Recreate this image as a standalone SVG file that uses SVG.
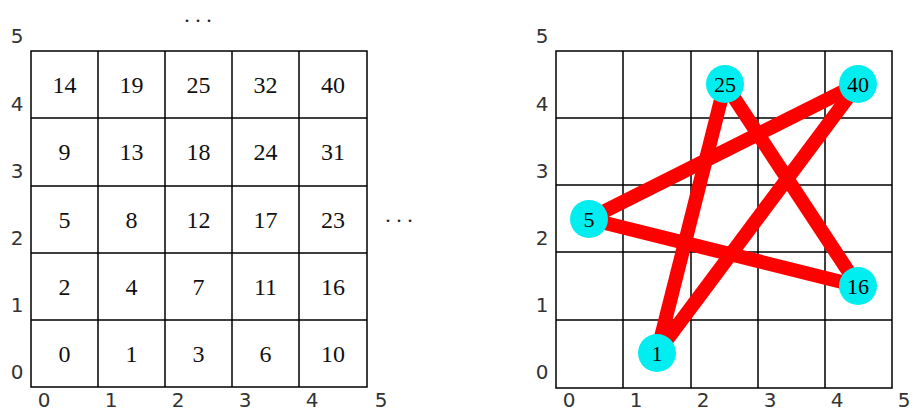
<svg xmlns="http://www.w3.org/2000/svg" width="914" height="412" viewBox="0 0 914 412">
<style>
.grid{fill:none;stroke:#000;stroke-width:1.5}
.num{font-family:"Liberation Serif","DejaVu Serif",serif;font-size:24px;fill:#111;text-anchor:middle;dominant-baseline:central}
.ax{font-family:"DejaVu Sans","Liberation Sans",sans-serif;font-size:20px;fill:#333;text-anchor:middle;dominant-baseline:central}
.dots{font-family:"Liberation Serif",serif;font-size:22px;fill:#222;text-anchor:middle}
.edge{stroke:#ff0000;stroke-width:14;stroke-linecap:butt}
.node{fill:#00eef0}
.nl{font-family:"Liberation Serif","DejaVu Serif",serif;font-size:22px;fill:#000;text-anchor:middle;dominant-baseline:central}
</style>
<rect width="914" height="412" fill="#fff"/>
<g id="left-grid">
<path class="grid" d="M31 51H367V387H31Z M98 51V387 M165 51V387 M232 51V387 M299 51V387 M31 118H367 M31 186H367 M31 253H367 M31 320H367"/>
<g id="left-numbers">
<text class="num" x="64.5" y="84.5">14</text><text class="num" x="131.5" y="84.5">19</text><text class="num" x="198.5" y="84.5">25</text><text class="num" x="265.5" y="84.5">32</text><text class="num" x="333" y="84.5">40</text>
<text class="num" x="64.5" y="152">9</text><text class="num" x="131.5" y="152">13</text><text class="num" x="198.5" y="152">18</text><text class="num" x="265.5" y="152">24</text><text class="num" x="333" y="152">31</text>
<text class="num" x="64.5" y="219.5">5</text><text class="num" x="131.5" y="219.5">8</text><text class="num" x="198.5" y="219.5">12</text><text class="num" x="265.5" y="219.5">17</text><text class="num" x="333" y="219.5">23</text>
<text class="num" x="64.5" y="286.5">2</text><text class="num" x="131.5" y="286.5">4</text><text class="num" x="198.5" y="286.5">7</text><text class="num" x="265.5" y="286.5">11</text><text class="num" x="333" y="286.5">16</text>
<text class="num" x="64.5" y="353.5">0</text><text class="num" x="131.5" y="353.5">1</text><text class="num" x="198.5" y="353.5">3</text><text class="num" x="265.5" y="353.5">6</text><text class="num" x="333" y="353.5">10</text>
</g>
<g id="left-axes">
<text class="ax" x="17" y="36">5</text><text class="ax" x="17" y="104">4</text><text class="ax" x="17" y="171">3</text><text class="ax" x="17" y="238">2</text><text class="ax" x="17" y="305">1</text><text class="ax" x="17" y="372">0</text>
<text class="ax" x="44" y="400">0</text><text class="ax" x="111" y="400">1</text><text class="ax" x="178" y="400">2</text><text class="ax" x="245" y="400">3</text><text class="ax" x="312" y="400">4</text><text class="ax" x="381" y="400">5</text>
</g>
<text class="dots" x="198" y="22">. . .</text>
<text class="dots" x="399" y="222">. . .</text>
</g>
<g id="right-grid">
<path class="grid" d="M556 51H892V388H556Z M623 51V388 M691 51V388 M758 51V388 M825 51V388 M556 118H892 M556 185H892 M556 252H892 M556 320H892"/>
<g id="right-axes">
<text class="ax" x="542" y="36">5</text><text class="ax" x="542" y="104">4</text><text class="ax" x="542" y="171">3</text><text class="ax" x="542" y="238">2</text><text class="ax" x="542" y="305">1</text><text class="ax" x="542" y="372">0</text>
<text class="ax" x="569" y="400">0</text><text class="ax" x="636" y="400">1</text><text class="ax" x="703" y="400">2</text><text class="ax" x="770" y="400">3</text><text class="ax" x="837" y="400">4</text><text class="ax" x="904" y="400">5</text>
</g>
</g>
<g id="connectors">
<line class="edge" x1="657" y1="353" x2="725" y2="84"/>
<line class="edge" x1="725" y1="84" x2="858" y2="286"/>
<line class="edge" x1="858" y1="286" x2="589" y2="219"/>
<line class="edge" x1="589" y1="219" x2="858" y2="84"/>
<line class="edge" x1="858" y1="84" x2="657" y2="353"/>
</g>
<g id="node-1"><circle class="node" cx="657" cy="353" r="19"/><text class="nl" x="657" y="353">1</text></g>
<g id="node-5"><circle class="node" cx="589" cy="219" r="19"/><text class="nl" x="589" y="219">5</text></g>
<g id="node-16"><circle class="node" cx="858" cy="286" r="19"/><text class="nl" x="858" y="286">16</text></g>
<g id="node-25"><circle class="node" cx="725" cy="84" r="19"/><text class="nl" x="725" y="84">25</text></g>
<g id="node-40"><circle class="node" cx="858" cy="84" r="19"/><text class="nl" x="858" y="84">40</text></g>
</svg>
